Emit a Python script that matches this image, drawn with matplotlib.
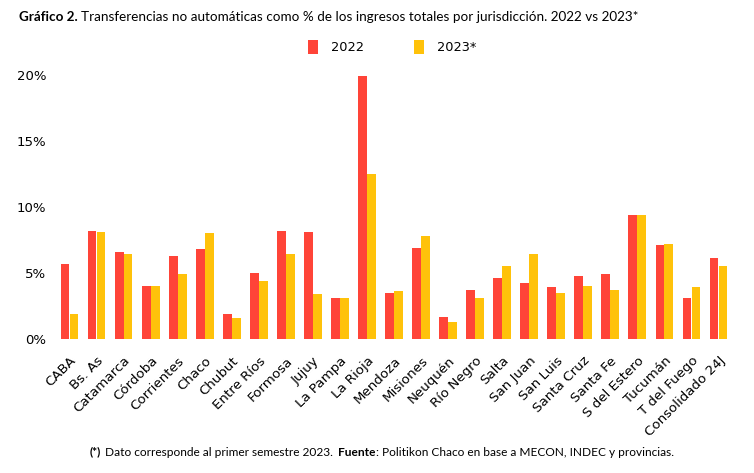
import matplotlib
matplotlib.use("Agg")
import matplotlib.pyplot as plt
import numpy as np

categories = ["CABA", "Bs. As", "Catamarca", "Córdoba", "Corrientes", "Chaco", "Chubut",
              "Entre Ríos", "Formosa", "Jujuy", "La Pampa", "La Rioja", "Mendoza", "Misiones",
              "Neuquén", "Río Negro", "Salta", "San Juan", "San Luis", "Santa Cruz", "Santa Fe",
              "S del Estero", "Tucumán", "T del Fuego", "Consolidado 24J"]
v2022 = [5.7, 8.2, 6.6, 4.0, 6.3, 6.8, 1.9, 5.0, 8.2, 8.1, 3.1, 19.9, 3.5, 6.9,
         1.7, 3.7, 4.6, 4.2, 3.9, 4.8, 4.9, 9.4, 7.1, 3.1, 6.1]
v2023 = [1.9, 8.1, 6.4, 4.0, 4.9, 8.0, 1.6, 4.4, 6.4, 3.4, 3.1, 12.5, 3.6, 7.8,
         1.3, 3.1, 5.5, 6.4, 3.5, 4.0, 3.7, 9.4, 7.2, 3.9, 5.5]
series_labels = ["2022", "2023*"]
yticks = [0, 5, 10, 15, 20]
ytick_labels = ["0%", "5%", "10%", "15%", "20%"]

RED = "#FF4438"
YEL = "#FFC20A"

fig = plt.figure(figsize=(7.54, 4.73), dpi=100)
ax = fig.add_axes([56 / 754, 1 - 339 / 473, (732 - 56) / 754, (339 - 61.4) / 473])

x = np.arange(len(categories))
w = 0.325
gap = 0.006
ax.bar(x - w / 2 - gap / 2, v2022, width=w, color=RED, linewidth=0, label=series_labels[0])
ax.bar(x + w / 2 + gap / 2, v2023, width=w, color=YEL, linewidth=0, label=series_labels[1])

ax.set_xlim(-0.5, len(categories) - 0.5)
ax.set_ylim(0, 21)
for s in ax.spines.values():
    s.set_visible(False)
ax.set_yticks(yticks)
ax.set_yticklabels(ytick_labels, fontsize=9.5, family="DejaVu Sans", color="#000000")
ax.set_xticks(x)
ax.set_xticklabels(categories, rotation=45, ha="right", va="top", rotation_mode="anchor",
                   fontsize=9.6, family="DejaVu Sans", color="#000000")
ax.tick_params(axis="both", length=0)
ax.tick_params(axis="y", pad=7)
ax.tick_params(axis="x", pad=11)

# Title
t1 = fig.text(19 / 754, 1 - 17 / 473, "Gráfico 2.", fontsize=9.7, family="Lato", weight="bold",
              va="center", ha="left", color="#000000")
fig.canvas.draw()
bb = t1.get_window_extent()
fig.text((bb.x1 + 3) / 754, 1 - 17 / 473,
         "Transferencias no automáticas como % de los ingresos totales por jurisdicción. 2022 vs 2023*",
         fontsize=9.7, family="Lato", va="center", ha="left", color="#000000")

# Legend
leg = ax.legend(loc="center", ncol=2, frameon=False, handlelength=0.75, handleheight=1.25,
                columnspacing=3.9, handletextpad=1.0, prop={"family": "DejaVu Sans", "size": 9.3},
                bbox_to_anchor=(392 / 754, 1 - 47 / 473), bbox_transform=fig.transFigure)

# Footnote
y_f = 1 - 452 / 473
fs = 8.6
f1 = fig.text(0, y_f, "(*)", fontsize=fs, family="Lato", weight="bold", va="center", ha="left")
f2 = fig.text(0, y_f, " Dato corresponde al primer semestre 2023.  ", fontsize=fs, family="Lato", va="center", ha="left")
f3 = fig.text(0, y_f, "Fuente", fontsize=fs, family="Lato", weight="bold", va="center", ha="left")
f4 = fig.text(0, y_f, ": Politikon Chaco en base a MECON, INDEC y provincias.", fontsize=fs, family="Lato", va="center", ha="left")
fig.canvas.draw()
parts = [f1, f2, f3, f4]
widths = [p.get_window_extent().width for p in parts]
total = sum(widths)
start = 382 - total / 2
for p, wd in zip(parts, widths):
    p.set_x(start / 754)
    start += wd

fig.savefig("out.png", dpi=100)
